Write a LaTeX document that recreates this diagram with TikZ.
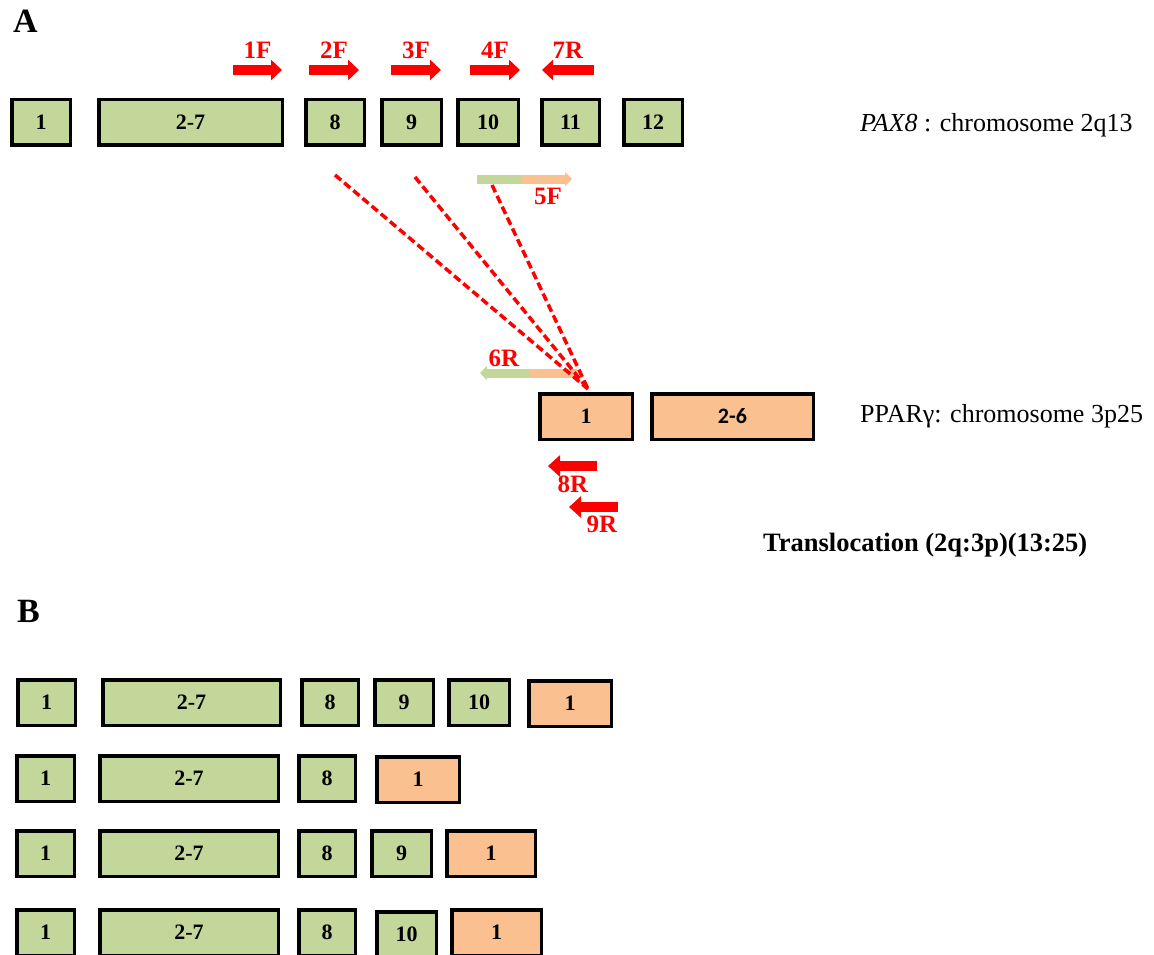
\documentclass[tikz,border=0pt]{standalone}
\usepackage{fontspec}
\setmainfont{Liberation Serif}
\newfontfamily\calibri{Carlito}
\usetikzlibrary{arrows.meta}
\definecolor{exgreen}{RGB}{196,215,155}
\definecolor{exorange}{RGB}{250,192,144}
\tikzset{
    exon/.style={draw=black, line width=3.5pt, fill=exgreen, minimum height=45.5pt,
        inner sep=0pt, font=\bfseries\fontsize{22}{22}\selectfont},
    ppar/.style={exon, fill=exorange},
    primer/.style={draw=red, line width=9.5pt},
    plabel/.style={text=red, inner sep=0pt, font=\bfseries\fontsize{25}{25}\selectfont},
    junction/.style={draw=red, line width=3.5pt, dash pattern=on 8pt off 4pt},
    chrom/.style={anchor=base west, inner sep=0pt, font=\fontsize{26}{26}\selectfont},
    panel/.style={anchor=base west, inner sep=0pt, font=\bfseries\fontsize{34}{34}\selectfont}
}
\newcommand{\exon}[6]{
    \pgfmathsetmacro{\exw}{#4-#3-3.5}
    \pgfmathsetmacro{\exx}{(#3+#4)/2}
    \pgfmathsetmacro{\exy}{#5+24.5}
    \node[#1, minimum width=\exw pt] (#2) at (\exx,\exy) {#6};
}
\newcommand{\fwd}[4]{
    \draw[primer, -{Triangle[length=11pt,width=20pt]}] (#1,70) -- (#2,70);
    \pgfmathsetmacro{\lx}{(#1+#2)/2}
    \node[plabel] (#4) at (\lx,50) {#3};
}
\newcommand{\rev}[6]{
    \draw[primer, -{Triangle[length=12pt,width=21pt]}] (#2,#3) -- (#1,#3);
    \node[plabel] (#6) at (#4) {#5};
}

\begin{document}
\begin{tikzpicture}[x=1pt,y=-1pt]
    \clip (0,0) rectangle (1154,955);

    \node[panel] (lblA) at (13,33) {A};

    \fwd{233}{282}{1F}{p1F}
    \fwd{309}{359}{2F}{p2F}
    \fwd{391}{441}{3F}{p3F}
    \fwd{470}{520}{4F}{p4F}
    \draw[primer, -{Triangle[length=11pt,width=20pt]}] (594,70) -- (542,70);
    \node[plabel] (p7R) at (568,50) {7R};

    \exon{exon}{a1}{10}{72}{98}{1}
    \exon{exon}{a27}{97}{284}{98}{2-7}
    \exon{exon}{a8}{304}{366}{98}{8}
    \exon{exon}{a9}{380}{443}{98}{9}
    \exon{exon}{a10}{456}{520}{98}{10}
    \exon{exon}{a11}{540}{601}{98}{11}
    \exon{exon}{a12}{622}{684}{98}{12}
    \node[chrom] (pax) at (860,132) {\textit{PAX8} : chromosome 2q13};

    \draw[line width=9pt, exgreen] (477,179) -- (521,179);
    \draw[line width=9pt, exorange, -{Triangle[length=7pt,width=14pt]}] (521,179) -- (572,179);
    \node[plabel] (p5F) at (548,196) {5F};

    \draw[line width=9pt, exorange] (577,373) -- (530,373);
    \draw[line width=9pt, exgreen, -{Triangle[length=7pt,width=14pt]}] (530,373) -- (480,373);
    \node[plabel] (p6R) at (504,358) {6R};

    \coordinate (brk) at (588,389);
    \coordinate (j8) at (335,175);
    \coordinate (j9) at (415,177);
    \coordinate (j10) at (492,185);
    \draw[junction] (j8) -- (brk);
    \draw[junction] (j9) -- (brk);
    \draw[junction] (j10) -- (brk);

    \exon{ppar}{g1}{538}{634}{392}{1}
    \exon{ppar, font=\calibri\bfseries\fontsize{22}{22}\selectfont}{g26}{650}{815}{392}{2-6}
    \node[chrom] (pparg) at (860,422) {PPARγ: chromosome 3p25};

    \rev{548}{597}{466}{573,484}{8R}{p8R}
    \rev{569}{618}{507}{602,524}{9R}{p9R}

    \node[chrom, font=\bfseries\fontsize{26.5}{26.5}\selectfont] (transl) at (763,551) {Translocation (2q:3p)(13:25)};

    \node[panel] (lblB) at (17,622) {B};

    \exon{exon}{b1e1}{16}{77}{678}{1}
    \exon{exon}{b1e27}{101}{282}{678}{2-7}
    \exon{exon}{b1e8}{300}{360}{678}{8}
    \exon{exon}{b1e9}{373}{435}{678}{9}
    \exon{exon}{b1e10}{447}{511}{678}{10}
    \exon{ppar}{b1g1}{527}{613}{679}{1}

    \exon{exon}{b2e1}{15}{76}{754}{1}
    \exon{exon}{b2e27}{98}{280}{754}{2-7}
    \exon{exon}{b2e8}{297}{357}{754}{8}
    \exon{ppar}{b2g1}{375}{461}{755}{1}

    \exon{exon}{b3e1}{15}{76}{829}{1}
    \exon{exon}{b3e27}{98}{280}{829}{2-7}
    \exon{exon}{b3e8}{297}{357}{829}{8}
    \exon{exon}{b3e9}{370}{433}{829}{9}
    \exon{ppar}{b3g1}{445}{537}{829}{1}

    \exon{exon}{b4e1}{15}{76}{908}{1}
    \exon{exon}{b4e27}{98}{280}{908}{2-7}
    \exon{exon}{b4e8}{297}{357}{908}{8}
    \exon{exon}{b4e10}{375}{438}{910}{10}
    \exon{ppar}{b4g1}{450}{543}{908}{1}
\end{tikzpicture}
\end{document}
